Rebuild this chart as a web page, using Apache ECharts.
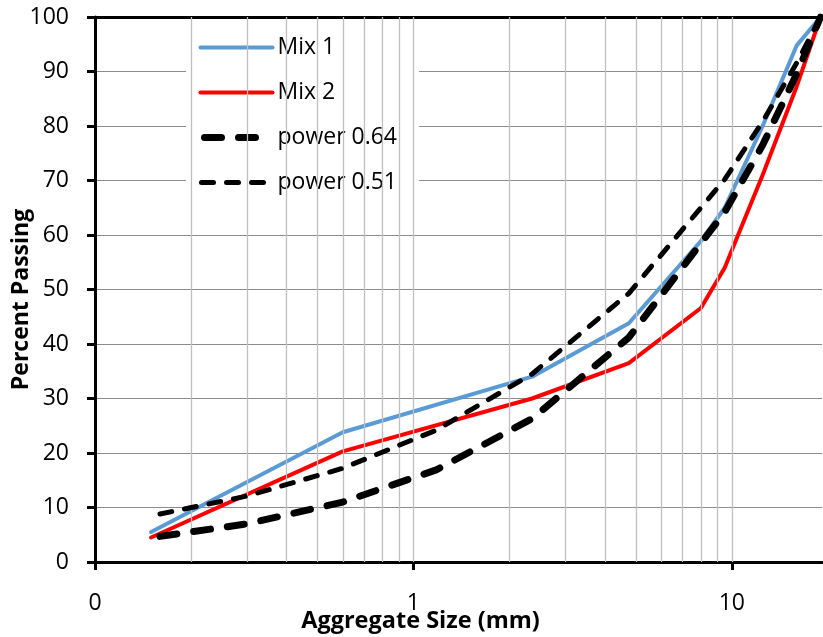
<!DOCTYPE html>
<html>
<head>
<meta charset="utf-8">
<script src="https://cdn.jsdelivr.net/npm/echarts@6/dist/echarts.min.js"></script>
<style>
  html, body { margin: 0; padding: 0; background: #fff; }
  #chart { width: 823px; height: 637px; }
</style>
</head>
<body>
<div id="chart"></div>
<script>
/* ===== gradation data ===== */
const mixSizes = [0.15, 0.6, 2.36, 4.75, 8, 9.5, 12.5, 16, 19];
const mix1 = [5.5, 23.8, 34, 43.8, 58.9, 65, 80, 94.8, 100];
const mix2 = [4.5, 20.3, 30, 36.5, 46.6, 54, 71, 87.3, 100];

const powerSizes = [0.16, 0.3, 0.6, 1.18, 2.36, 4.75, 9.5, 12.5, 16, 19];
const power064 = [4.7, 7.0, 11.0, 16.9, 26.3, 41.2, 64.2, 76.5, 89.6, 100];
const power051 = [8.8, 12.1, 17.2, 24.2, 34.5, 49.3, 70.2, 80.8, 91.6, 100];

const xTickValues = [0.1, 1, 10];
const xTickLabels = ['0', '1', '10'];
const xGridValues = [0.2, 0.3, 0.4, 0.5, 0.6, 0.7, 0.8, 0.9, 1, 2, 3, 4, 5, 6, 7, 8, 9, 10];

const theme = {
  blue: '#5b9bd5',
  red: '#ff0000',
  black: '#000000',
  hGrid: '#8c8c8c',
  vGrid: '#bfbfbf',
  font: "'Open Sans', 'Noto Sans', sans-serif",
};

const styles = {
  mix1: { color: theme.blue, width: 4, type: 'solid', cap: 'round', join: 'round' },
  mix2: { color: theme.red, width: 4, type: 'solid', cap: 'round', join: 'round' },
  p064: { color: theme.black, width: 7, type: [17, 17], cap: 'round', join: 'round' },
  p051: { color: theme.black, width: 5, type: [12, 13], cap: 'round', join: 'round' },
};

function pairs(xs, ys) {
  return xs.map((x, i) => [x, ys[i]]);
}

function legendItem(name, lineStyle, extra) {
  return { name, itemStyle: { opacity: 0 }, lineStyle: { ...lineStyle, ...extra } };
}

const chart = echarts.init(document.getElementById('chart'));

const logAxisBase = {
  type: 'log',
  logBase: 10,
  min: 0.1,
  max: 19.2,
  splitLine: { show: false },
  minorSplitLine: { show: false },
};

chart.setOption({
  backgroundColor: '#ffffff',
  animation: false,
  textStyle: { fontFamily: theme.font },
  grid: { left: 95, right: 1, top: 17, bottom: 75, containLabel: false, outerBoundsMode: 'none' },
  legend: {
    orient: 'vertical',
    left: 186,
    top: 21,
    padding: [15, 22, 12, 11],
    backgroundColor: '#ffffff',
    itemWidth: 72,
    itemHeight: 20,
    itemGap: 22,
    textStyle: { color: '#000', fontSize: 23, fontFamily: theme.font },
    data: [
      legendItem('Mix 1', styles.mix1),
      legendItem('Mix 2', styles.mix2),
      legendItem('power 0.64', styles.p064, { dashOffset: 30 }),
      legendItem('power 0.51', styles.p051, { dashOffset: 24 }),
    ],
  },
  xAxis: [
    {
      ...logAxisBase,
      position: 'bottom',
      name: 'Aggregate Size (mm)',
      nameLocation: 'middle',
      nameGap: 47,
      nameMoveOverlap: false,
      nameTextStyle: {
        color: '#000', fontSize: 23.5, fontWeight: 'bold', fontFamily: theme.font,
        padding: [0, 76, 0, 0],
      },
      axisLine: { show: true, onZero: false, lineStyle: { color: theme.black, width: 3 } },
      axisTick: {
        show: true, length: 8, inside: false,
        customValues: xTickValues,
        lineStyle: { color: theme.black, width: 3 },
      },
      axisLabel: {
        color: '#000', fontSize: 23, margin: 30,
        customValues: xTickValues,
        formatter: v => xTickLabels[xTickValues.findIndex(t => Math.abs(t - v) < 1e-9)] ?? '',
      },
    },
    {
      ...logAxisBase,
      position: 'top',
      axisLine: { show: true, onZero: false, lineStyle: { color: theme.black, width: 3 } },
      axisTick: { show: false },
      axisLabel: { show: false },
    },
  ],
  yAxis: {
    type: 'value',
    min: 0,
    max: 100,
    interval: 10,
    name: 'Percent Passing',
    nameLocation: 'middle',
    nameGap: 62,
    nameMoveOverlap: false,
    nameTextStyle: {
      color: '#000', fontSize: 23, fontWeight: 'bold', fontFamily: theme.font,
      padding: [0, 20, 0, 0],
    },
    axisLine: { show: true, lineStyle: { color: theme.black, width: 3 } },
    axisTick: { show: true, length: 8, lineStyle: { color: theme.black, width: 3 } },
    axisLabel: { color: '#000', fontSize: 23, margin: 26 },
    splitLine: { show: true, lineStyle: { color: theme.hGrid, width: 1.2 } },
  },
  series: [
    {
      name: 'vgrid',
      type: 'line',
      data: [],
      silent: true,
      z: 1,
      markLine: {
        silent: true,
        symbol: 'none',
        label: { show: false },
        lineStyle: { color: theme.vGrid, width: 1.3, type: 'solid' },
        data: xGridValues.map(v => ({ xAxis: v })),
      },
    },
    {
      name: 'Mix 1',
      type: 'line',
      data: pairs(mixSizes, mix1),
      symbol: 'none',
      z: 3,
      lineStyle: styles.mix1,
      itemStyle: { color: theme.blue },
    },
    {
      name: 'Mix 2',
      type: 'line',
      data: pairs(mixSizes, mix2),
      symbol: 'none',
      z: 4,
      lineStyle: styles.mix2,
      itemStyle: { color: theme.red },
    },
    {
      name: 'power 0.64',
      type: 'line',
      data: pairs(powerSizes, power064),
      symbol: 'none',
      z: 5,
      lineStyle: styles.p064,
      itemStyle: { color: theme.black },
    },
    {
      name: 'power 0.51',
      type: 'line',
      data: pairs(powerSizes, power051),
      symbol: 'none',
      z: 6,
      lineStyle: styles.p051,
      itemStyle: { color: theme.black },
    },
  ],
});

window.addEventListener('resize', () => chart.resize());
</script>
</body>
</html>
